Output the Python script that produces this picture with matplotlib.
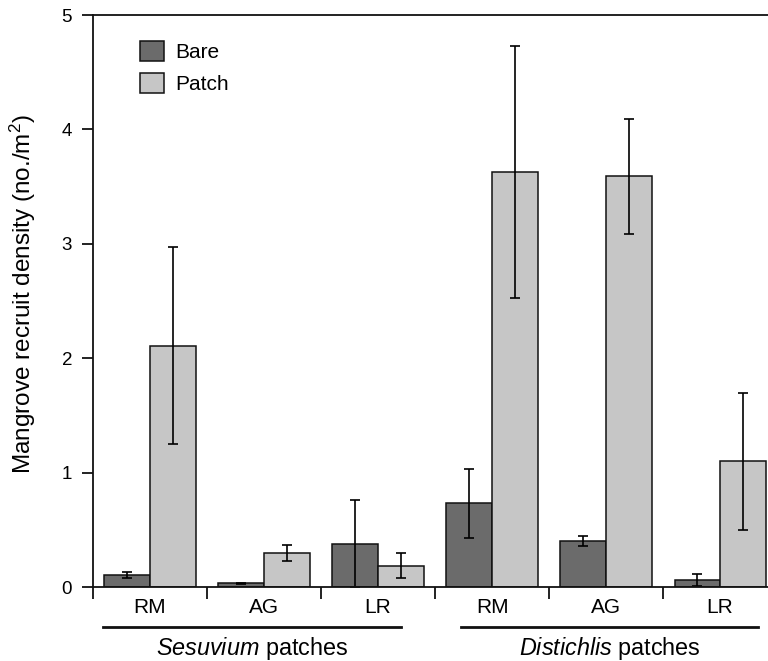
import numpy as np
import matplotlib
matplotlib.use("Agg")
import matplotlib.pyplot as plt
from matplotlib.transforms import blended_transform_factory

plt.rcParams['font.family'] = ['Liberation Sans', 'DejaVu Sans']
plt.rcParams['mathtext.fontset'] = 'custom'
plt.rcParams['mathtext.rm'] = 'Liberation Sans'
plt.rcParams['mathtext.it'] = 'Liberation Sans:italic'

# --- DATA: mangrove recruit density (no./m2), mean +/- SE ---
sites = ['RM', 'AG', 'LR', 'RM', 'AG', 'LR']
bare = [0.105, 0.032, 0.38, 0.73, 0.405, 0.06]
bare_err = [0.027, 0.004, 0.38, 0.30, 0.045, 0.05]
patch = [2.11, 0.30, 0.186, 3.63, 3.59, 1.10]
patch_err = [0.86, 0.07, 0.11, 1.10, 0.50, 0.60]
patch_types = [r'$\it{Sesuvium}$ patches', r'$\it{Distichlis}$ patches']

BARE_C = '#6b6b6b'
PATCH_C = '#c6c6c6'
W = 0.4

fig = plt.figure(figsize=(7.68, 6.61), dpi=100)
ax = fig.add_axes([93 / 768, 1 - 587 / 661, 1 - 93 / 768, 572 / 661])

x = np.arange(len(sites))
err_kw = dict(ecolor='black', elinewidth=1.2, capsize=3.5, capthick=1.2)
ax.bar(x - W / 2, bare, W, yerr=bare_err, color=BARE_C, edgecolor='#111111',
       linewidth=1.1, error_kw=err_kw, label='Bare', zorder=2)
ax.bar(x + W / 2, patch, W, yerr=patch_err, color=PATCH_C, edgecolor='#111111',
       linewidth=1.1, error_kw=err_kw, label='Patch', zorder=2)

ax.set_xlim(-0.5, 5.42)
ax.set_ylim(0, 5)

# spines: left, bottom (y = 0) and top
ax.spines['right'].set_visible(False)
for s in ('left', 'bottom', 'top'):
    ax.spines[s].set_linewidth(1.3)
    ax.spines[s].set_color('#111111')

ax.set_yticks([0, 1, 2, 3, 4, 5])
ax.tick_params(axis='y', direction='out', length=8, width=1.3, pad=7,
               labelsize=13.5, color='#111111')

ax.set_xticks(x)
ax.set_xticklabels(sites, fontsize=15)
ax.tick_params(axis='x', which='major', length=0, pad=8)
ax.set_xticks(np.arange(-0.5, 5.0, 1.0), minor=True)
ax.tick_params(axis='x', which='minor', direction='out', length=8.5, width=1.3,
               color='#111111')

ax.set_ylabel('Mangrove recruit density (no./m$^2$)', fontsize=17.5)
ax.yaxis.set_label_coords(-0.082, 0.512)

# group underlines and group labels below the site labels
trans = blended_transform_factory(ax.transData, ax.transAxes)
spans = [(-0.41, 2.20), (2.73, 5.33)]
for (x0, x1), name in zip(spans, patch_types):
    ax.plot([x0, x1], [-0.070, -0.070], color='#111111', linewidth=2,
            transform=trans, clip_on=False)
    ax.text((x0 + x1) / 2, -0.119, name, transform=trans, ha='center',
            va='baseline', fontsize=16.8)

leg = ax.legend(loc='upper left', bbox_to_anchor=(0.07, 0.955), frameon=False,
                fontsize=15, handlelength=1.15, handleheight=1.15,
                labelspacing=0.5, handletextpad=0.55, borderpad=0,
                borderaxespad=0)
for h in leg.legend_handles:
    h.set_linewidth(1.1)

fig.savefig('out.png', dpi=100)
